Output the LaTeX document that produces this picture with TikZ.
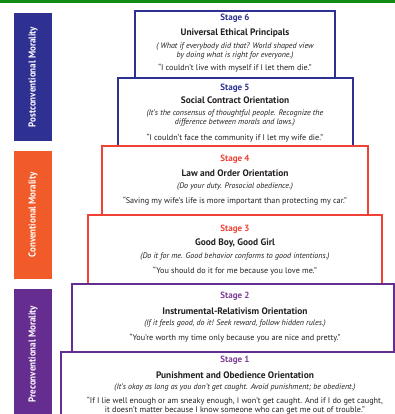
\documentclass[tikz,border=0pt]{standalone}
\usepackage{fontspec}
\setmainfont{PT Sans}
\newfontfamily\condfont{PT Sans}[FakeStretch=0.9]
\definecolor{postblue}{HTML}{2E3192}
\definecolor{convorange}{HTML}{F15A29}
\definecolor{prepurple}{HTML}{662D91}
\definecolor{stagered}{HTML}{EF4136}
\definecolor{stagepurple}{HTML}{7F3F98}
\definecolor{topgreen}{HTML}{138B12}
\definecolor{bodytext}{HTML}{231F20}
\tikzset{
  levelbar/.style={rectangle, inner sep=0pt, rotate=90, minimum height=38pt,
    text=white, font=\condfont\bfseries\fontsize{10}{11}\selectfont},
  stagebox/.style={rectangle, draw, line width=2pt, fill=white, inner sep=0pt},
  stagehead/.style={inner sep=0pt, font=\bfseries\fontsize{9}{10}\selectfont},
  stagetitle/.style={inner sep=0pt, text=bodytext, font=\bfseries\fontsize{9.4}{10}\selectfont},
  stagenote/.style={inner sep=0pt, text=bodytext, font=\itshape\fontsize{8}{9}\selectfont},
  stagequote/.style={inner sep=0pt, text=bodytext, font=\fontsize{8.2}{9}\selectfont},
}
\begin{document}
\begin{tikzpicture}[x=1pt,y=-1pt]
\useasboundingbox (0,0) rectangle (395,414);
\clip (0,0) rectangle (395,414);
\fill[white] (0,0) rectangle (395,414);
% top rule
\fill[topgreen] (0,0) rectangle (395,3);

% level bars
\node[levelbar, fill=postblue, minimum width=128pt] (post) at (33,77) {Postconventional Morality};
\node[levelbar, fill=convorange, minimum width=128pt] (conv) at (33,215) {Conventional Morality};
\node[levelbar, fill=prepurple, minimum width=130pt] (pre) at (33,354) {Preconventional Morality};

% Stage 6
\node[stagebox, draw=postblue, minimum width=200pt, minimum height=74pt] (box6) at (235,48) {};
\node[stagehead, text=postblue] (s6h) at (235,18) {Stage 6};
\node[stagetitle] (s6t) at (235,33) {Universal Ethical Principals};
\node[stagenote] (s6i) at (235,47) {( What if everybody did that? World shaped view};
\node[stagenote] (s6j) at (235,56) {by doing what is right for everyone.)};
\node[stagequote] (s6q) at (235,68) {``I couldn't live with myself if I let them die.''};

% Stage 5
\node[stagebox, draw=postblue, minimum width=235pt, minimum height=72pt] (box5) at (235.5,114) {};
\node[stagehead, text=postblue] (s5h) at (235,88) {Stage 5};
\node[stagetitle] (s5t) at (235,100) {Social Contract Orientation};
\node[stagenote] (s5i) at (235,114) {(It's the consensus of thoughtful people. Recognize the};
\node[stagenote] (s5j) at (235,123) {difference between morals and laws.)};
\node[stagequote] (s5q) at (235,138) {``I couldn't face the community if I let my wife die.''};

% Stage 4
\node[stagebox, draw=stagered, minimum width=266pt, minimum height=73pt] (box4) at (235,182.5) {};
\node[stagehead, text=stagered] (s4h) at (235,159) {Stage 4};
\node[stagetitle] (s4t) at (235,173) {Law and Order Orientation};
\node[stagenote] (s4i) at (235,187) {(Do your duty. Prosocial obedience.)};
\node[stagequote] (s4q) at (235,201) {``Saving my wife's life is more important than protecting my car.''};

% Stage 3
\node[stagebox, draw=stagered, minimum width=294pt, minimum height=73pt] (box3) at (235,251.5) {};
\node[stagehead, text=stagered] (s3h) at (235,229) {Stage 3};
\node[stagetitle] (s3t) at (235,243) {Good Boy, Good Girl};
\node[stagenote] (s3i) at (235,257) {(Do it for me. Good behavior conforms to good intentions.)};
\node[stagequote] (s3q) at (235,271) {``You should do it for me because you love me.''};

% Stage 2
\node[stagebox, draw=prepurple, minimum width=322pt, minimum height=72pt] (box2) at (233,320) {};
\node[stagehead, text=stagepurple] (s2h) at (235,296) {Stage 2};
\node[stagetitle] (s2t) at (235,311) {Instrumental-Relativism Orientation};
\node[stagenote] (s2i) at (235,324) {(If it feels good, do it! Seek reward, follow hidden rules.)};
\node[stagequote] (s2q) at (235,338) {``You're worth my time only because you are nice and pretty.''};

% Stage 1
\node[stagebox, draw=prepurple, minimum width=349pt, minimum height=78pt] (box1) at (235.5,391) {};
\node[stagehead, text=stagepurple] (s1h) at (235,360) {Stage 1};
\node[stagetitle] (s1t) at (235,375) {Punishment and Obedience Orientation};
\node[stagenote] (s1i) at (235,388) {(It's okay as long as you don't get caught. Avoid punishment; be obedient.)};
\node[stagequote] (s1q) at (235,401) {``If I lie well enough or am sneaky enough, I won't get caught. And if I do get caught,};
\node[stagequote] (s1r) at (235,410) {it doesn't matter because I know someone who can get me out of trouble.''};
\end{tikzpicture}
\end{document}
